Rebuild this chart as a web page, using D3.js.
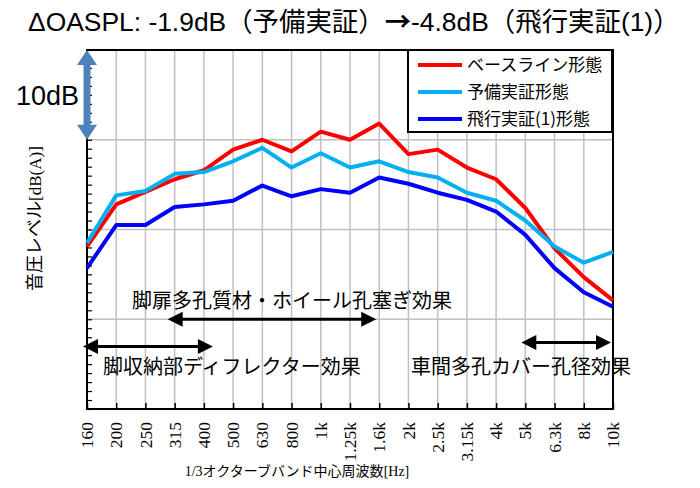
<!DOCTYPE html>
<html>
<head>
<meta charset="utf-8">
<script src="https://cdn.jsdelivr.net/npm/d3@7"></script>
<style>
  body { margin: 0; background: #fff; }
  text { fill: #000; }
</style>
</head>
<body>
<svg id="chart" width="700" height="488"></svg>
<script>
// 1/3 octave band centre frequencies
const bands = ['160', '200', '250', '315', '400', '500', '630', '800', '1k', '1.25k', '1.6k',
  '2k', '2.5k', '3.15k', '4k', '5k', '6.3k', '8k', '10k'];

// relative sound pressure level, dB(A) (axis carries no numbers, 10 dB per grid)
const baseline = [18.1, 22.8, 24.2, 25.6, 26.6, 28.9, 30.0, 28.7, 30.9, 30.0, 31.8,
  28.4, 28.9, 26.9, 25.6, 22.4, 17.9, 14.7, 12.1];
const prelim = [18.5, 23.8, 24.3, 26.2, 26.4, 27.6, 29.1, 26.9, 28.5, 26.9, 27.6,
  26.4, 25.8, 24.1, 23.2, 21.0, 18.1, 16.3, 17.5];
const flight = [15.7, 20.5, 20.5, 22.5, 22.8, 23.2, 24.9, 23.7, 24.5, 24.1, 25.8,
  25.1, 24.1, 23.3, 22.0, 19.4, 15.7, 13.0, 11.4];

const seriesNames = ['ベースライン形態', '予備実証形態', '飛行実証(1)形態'];
const seriesColors = ['#ff0000', '#00b0f0', '#0000ff'];
const yDomain = [0, 40];

const svg = d3.select('#chart');
const margin = { top: 50, right: 87, bottom: 79, left: 87 };
const W = 700, H = 488;
const x = d3.scalePoint().domain(bands).range([margin.left, W - margin.right]);
const y = d3.scaleLinear().domain(yDomain).range([H - margin.bottom, margin.top]);

const sans = '"Liberation Sans", "Noto Sans CJK JP", sans-serif';
const jp = '"Noto Sans CJK JP", sans-serif';
const serif = '"Liberation Serif", "Noto Sans CJK JP", serif';

// grid
const grid = svg.append('g').attr('stroke', '#c0c0c0').attr('stroke-width', 1.5);
grid.selectAll('.vg').data(bands.slice(1)).enter().append('line')
  .attr('x1', d => x(d)).attr('x2', d => x(d))
  .attr('y1', y(yDomain[0])).attr('y2', y(yDomain[1]));
grid.selectAll('.hg').data(d3.range(10, 40, 10)).enter().append('line')
  .attr('x1', x.range()[0]).attr('x2', x.range()[1])
  .attr('y1', d => y(d)).attr('y2', d => y(d));

// axes (inward ticks, no numbers on y)
svg.append('g').attr('transform', `translate(0,${y(0)})`)
  .call(d3.axisTop(x).tickSize(6).tickFormat(''))
  .call(g => g.select('.domain').remove())
  .selectAll('line').attr('stroke', '#000').attr('stroke-width', 1.5);
svg.append('g').attr('transform', `translate(${x.range()[0]},0)`)
  .call(d3.axisRight(y).tickValues(d3.range(0, 41, 1)).tickSize(5).tickFormat(''))
  .call(g => g.select('.domain').remove())
  .selectAll('line').attr('stroke', '#000').attr('stroke-width', 1.2);

// frame
svg.append('rect')
  .attr('x', x.range()[0]).attr('y', y(40))
  .attr('width', x.range()[1] - x.range()[0]).attr('height', y(0) - y(40))
  .attr('fill', 'none').attr('stroke', '#000').attr('stroke-width', 2);

// x tick labels, rotated
svg.append('g').selectAll('text').data(bands).enter().append('text')
  .attr('transform', d => `translate(${x(d)},${y(0) + 13}) rotate(-90)`)
  .attr('dy', '0.35em')
  .attr('text-anchor', 'end')
  .style('font-family', serif).style('font-size', '17.5px')
  .text(d => d);

// series
const line = d3.line().x((d, i) => x(bands[i])).y(d => y(d));
[baseline, prelim, flight].forEach((s, k) => {
  svg.append('path').datum(s)
    .attr('fill', 'none').attr('stroke', seriesColors[k])
    .attr('stroke-width', 4).attr('stroke-linejoin', 'round')
    .attr('d', line);
});

// legend
const lg = svg.append('g');
lg.append('rect').attr('x', 408).attr('y', 50).attr('width', 204).attr('height', 82)
  .attr('fill', '#fff').attr('stroke', '#000').attr('stroke-width', 2);
seriesNames.forEach((n, k) => {
  const yy = 65 + k * 27;
  lg.append('line').attr('x1', 418).attr('x2', 462).attr('y1', yy).attr('y2', yy)
    .attr('stroke', seriesColors[k]).attr('stroke-width', 4);
  lg.append('text').attr('x', 467).attr('y', yy).attr('dy', '0.35em')
    .style('font-family', jp).style('font-size', '17px').text(n);
});

// double-headed arrow helper
function dblArrow(g, x1, y1, x2, y2, opt) {
  const ang = Math.atan2(y2 - y1, x2 - x1);
  const len = Math.hypot(x2 - x1, y2 - y1);
  const a = g.append('g').attr('transform', `translate(${x1},${y1}) rotate(${ang * 180 / Math.PI})`);
  a.append('line').attr('x1', opt.head - 1).attr('x2', len - opt.head + 1).attr('y1', 0).attr('y2', 0)
    .attr('stroke', opt.color).attr('stroke-width', opt.width);
  a.append('path').attr('d', `M0,0L${opt.head},${-opt.half}L${opt.head},${opt.half}Z`).attr('fill', opt.color);
  a.append('path').attr('d', `M${len},0L${len - opt.head},${-opt.half}L${len - opt.head},${opt.half}Z`).attr('fill', opt.color);
}

// 10 dB scale arrow
dblArrow(svg, x('160'), y(40), x('160'), y(30), { color: '#4f81bd', width: 7, head: 15, half: 10 });
svg.append('text').attr('x', 79).attr('y', y(35)).attr('dy', '0.36em')
  .attr('text-anchor', 'end')
  .style('font-family', sans).style('font-size', '27px').text('10dB');

// effect annotations
const black = { color: '#000', width: 3, head: 15, half: 7.5 };
dblArrow(svg, x('315') - 7, y(10), x('1.6k') - 3, y(10), black);
dblArrow(svg, x('160') - 4, y(6.95), x('400') + 9, y(6.95), black);
dblArrow(svg, x('5k') - 4, y(7.4), x('10k') - 2, y(7.4), black);

const notes = [
  { t: '脚扉多孔質材・ホイール孔塞ぎ効果', x: 132, y: 300.5 },
  { t: '脚収納部ディフレクター効果', x: 103, y: 367 },
  { t: '車間多孔カバー孔径効果', x: 411, y: 367 }
];
svg.append('g').selectAll('text').data(notes).enter().append('text')
  .attr('x', d => d.x).attr('y', d => d.y).attr('dy', '0.36em')
  .style('font-family', jp).style('font-size', '20px')
  .text(d => d.t);

// title, font size fitted to the original width
const title = svg.append('text').attr('x', 28).attr('y', 21).attr('dy', '0.36em')
  .style('font-family', sans).style('font-size', '28px');
title.append('tspan').text('ΔOASPL: -1.9dB（予備実証）');
title.append('tspan').style('font-family', jp).style('font-weight', 'bold').text('→');
title.append('tspan').text('-4.8dB（飛行実証(1)）');
const tw = title.node().getComputedTextLength();
title.style('font-size', (28 * 652 / tw).toFixed(2) + 'px');

// axis titles
const yt = svg.append('text')
  .attr('transform', `translate(35,218.5) rotate(-90)`)
  .attr('dy', '0.36em').attr('text-anchor', 'middle');
yt.append('tspan').style('font-family', jp).style('font-size', '18px').text('音圧レベル');
yt.append('tspan').style('font-family', serif).style('font-size', '17px').text('[dB(A)]');

const xt = svg.append('text').attr('x', 297).attr('y', 471).attr('dy', '0.36em')
  .attr('text-anchor', 'middle').style('font-size', '14px');
xt.append('tspan').style('font-family', serif).text('1/3');
xt.append('tspan').style('font-family', jp).text('オクターブバンド中心周波数');
xt.append('tspan').style('font-family', serif).text('[Hz]');
</script>
</body>
</html>
